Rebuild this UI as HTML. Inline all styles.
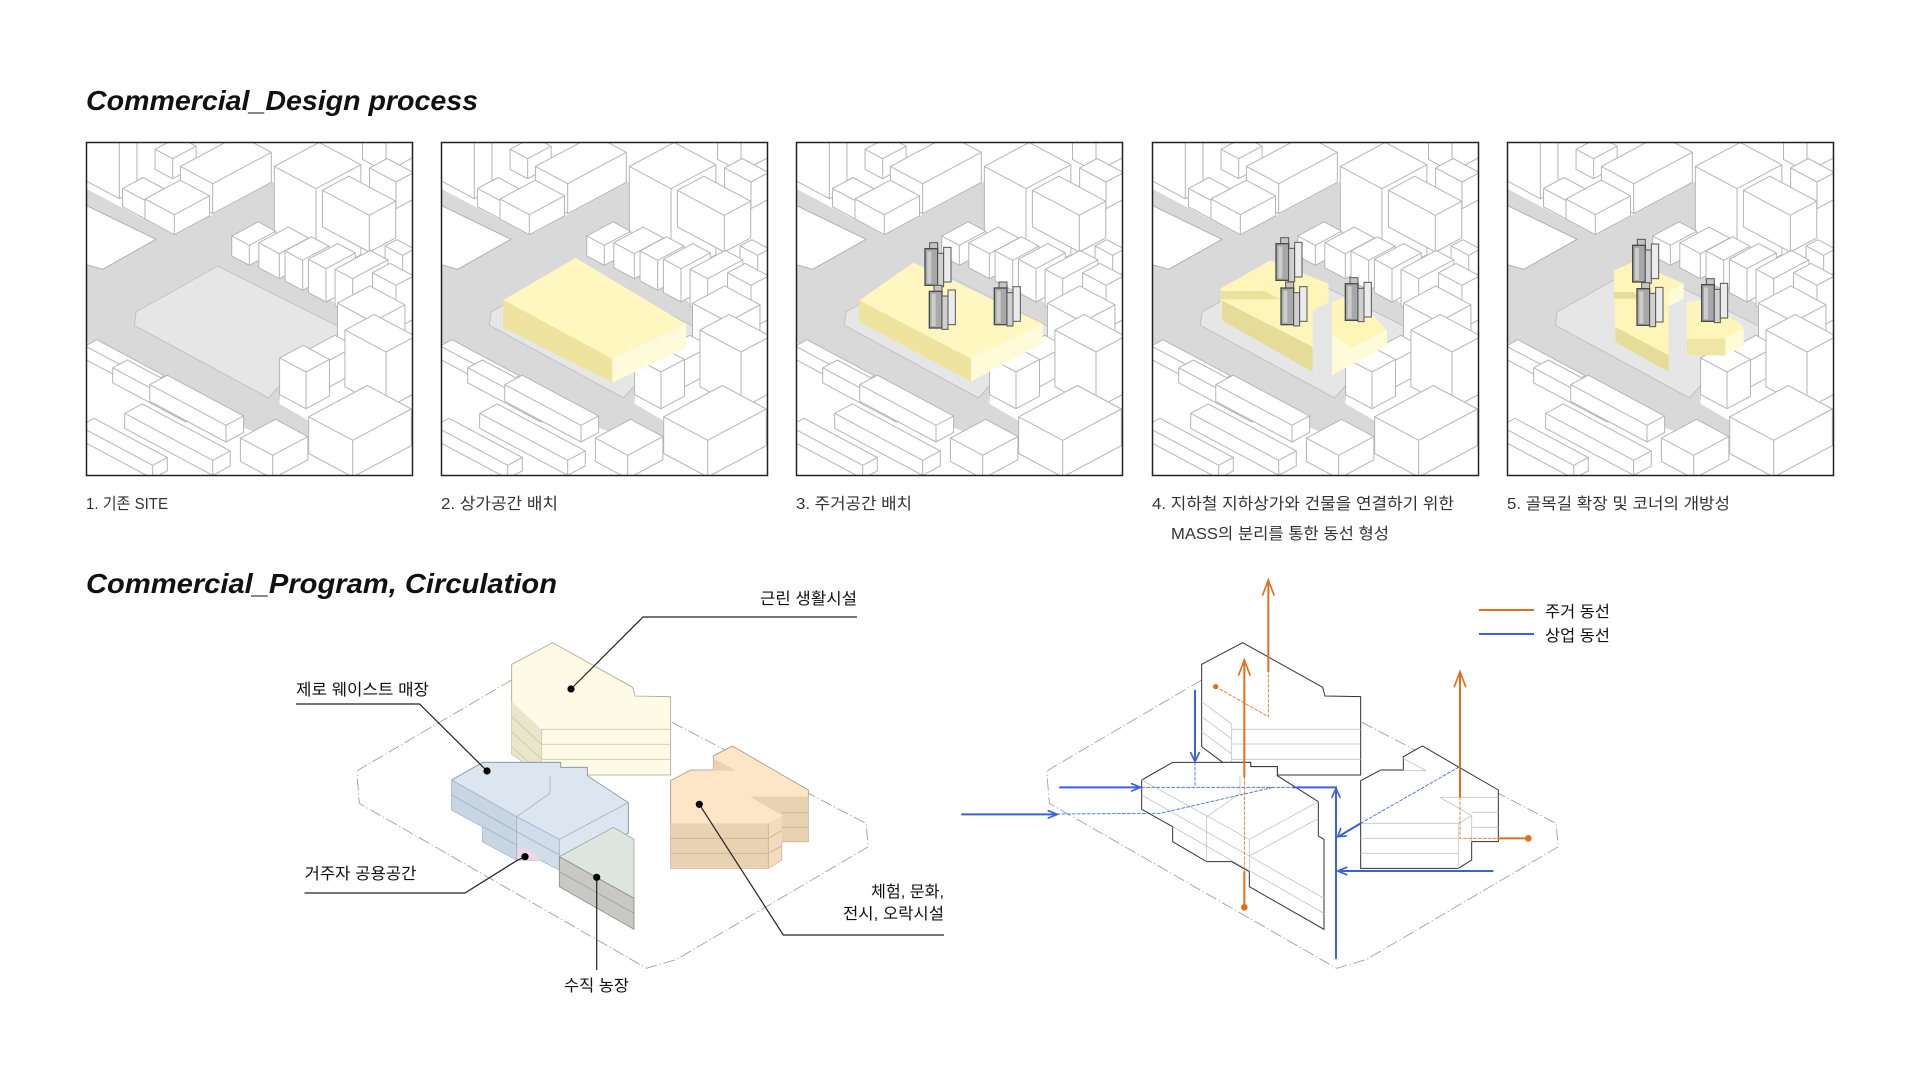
<!DOCTYPE html>
<html><head><meta charset="utf-8"><style>
html,body{margin:0;padding:0;background:#fff;}
svg{display:block;}
text{font-family:"Liberation Sans","Noto Sans CJK KR",sans-serif;}
</style></head><body>
<svg xmlns="http://www.w3.org/2000/svg" xmlns:xlink="http://www.w3.org/1999/xlink" width="1920" height="1080" viewBox="0 0 1920 1080">
<defs>
<g id="city">
<rect x="0" y="0" width="981" height="1005" fill="#fff"/>
<path d="M0,140 L265,280 L560,120 L570,120 L570,330 L810,540 L760,590 L585,740 L580,785 L765,893 L620,912 L480,860 L0,600 Z" fill="#d9d9d9"/>
<path d="M0,190 L210,292 L50,382 L0,368 Z" fill="#fff" stroke="#b0b0b0" stroke-width="3"/>
<path d="M150,510 L395,372 L775,562 L590,720 L548,768 L145,550 Z" fill="#e6e6e6" stroke="#c2c2c2" stroke-width="3" stroke-linejoin="round"/>
<g fill="#fff" stroke="#b5b5b5" stroke-width="3" stroke-linejoin="round">
<path d="M900,90 L979.2,47.7 L979.2,-42.3 L908.8,-79.9 L829.6,-37.6 L829.6,52.4 Z M900,0 V90 M900,0 L979.2,-42.3 M900,0 L829.6,-37.6"/>
<path d="M100,170 L152.8,141.8 L152.8,-28.2 L47.2,-84.6 L-5.6,-56.4 L-5.6,113.6 Z M100,0 V170 M100,0 L152.8,-28.2 M100,0 L-5.6,-56.4"/>
<path d="M260,110 L330.4,72.4 L330.4,12.4 L277.6,-15.8 L207.2,21.8 L207.2,81.8 Z M260,50 V110 M260,50 L330.4,12.4 M260,50 L207.2,21.8"/>
<path d="M380,215 L556,121 L556,31 L459.2,-20.7 L283.2,73.3 L283.2,163.3 Z M380,125 V215 M380,125 L556,31 M380,125 L283.2,73.3"/>
<path d="M180,232 L241.6,199.1 L241.6,144.1 L171.2,106.5 L109.6,139.4 L109.6,194.4 Z M180,177 V232 M180,177 L241.6,144.1 M180,177 L109.6,139.4"/>
<path d="M265,278 L370.6,221.6 L370.6,161.6 L282.6,114.6 L177,171 L177,231 Z M265,218 V278 M265,218 L370.6,161.6 M265,218 L177,171"/>
<path d="M690,410 L824.6,338.1 L824.6,68.1 L699.6,1.4 L565,73.3 L565,343.3 Z M690,140 V410 M690,140 L824.6,68.1 M690,140 L565,73.3"/>
<path d="M930,200 L982.8,171.8 L982.8,91.8 L903.6,49.5 L850.8,77.7 L850.8,157.7 Z M930,120 V200 M930,120 L982.8,91.8 M930,120 L850.8,77.7"/>
<path d="M850,330 L929.2,287.7 L929.2,177.7 L788.4,102.5 L709.2,144.8 L709.2,254.8 Z M850,220 V330 M850,220 L929.2,177.7 M850,220 L709.2,144.8"/>
<path d="M950,410 L985.2,391.2 L985.2,321.2 L932.4,293 L897.2,311.8 L897.2,381.8 Z M950,340 V410 M950,340 L985.2,321.2 M950,340 L897.2,311.8"/>
<path d="M490,370 L569.2,327.7 L569.2,267.7 L516.4,239.5 L437.2,281.8 L437.2,341.8 Z M490,310 V370 M490,310 L569.2,267.7 M490,310 L437.2,281.8"/>
<path d="M580,410 L668,363 L668,288 L606.4,255.1 L518.4,302.1 L518.4,377.1 Z M580,335 V410 M580,335 L668,288 M580,335 L518.4,302.1"/>
<path d="M650,445 L729.2,402.7 L729.2,312.7 L676.4,284.5 L597.2,326.8 L597.2,416.8 Z M650,355 V445 M650,355 L729.2,312.7 M650,355 L597.2,326.8"/>
<path d="M720,480 L808,433 L808,333 L755.2,304.8 L667.2,351.8 L667.2,451.8 Z M720,380 V480 M720,380 L808,333 M720,380 L667.2,351.8"/>
<path d="M800,520 L905.6,463.6 L905.6,353.6 L852.8,325.4 L747.2,381.8 L747.2,491.8 Z M800,410 V520 M800,410 L905.6,353.6 M800,410 L747.2,381.8"/>
<path d="M930,560 L982.8,531.8 L982.8,401.8 L912.4,364.2 L859.6,392.4 L859.6,522.4 Z M930,430 V560 M930,430 L982.8,401.8 M930,430 L859.6,392.4"/>
<path d="M860,650 L956.8,598.3 L956.8,488.3 L851.2,431.9 L754.4,483.6 L754.4,593.6 Z M860,540 V650 M860,540 L956.8,488.3 M860,540 L754.4,483.6"/>
<path d="M720,740 L808,693 L808,613 L746.4,580.1 L658.4,627.1 L658.4,707.1 Z M720,660 V740 M720,660 L808,613 M720,660 L658.4,627.1"/>
<path d="M660,800 L730.4,762.4 L730.4,652.4 L651.2,610.1 L580.8,647.7 L580.8,757.7 Z M660,690 V800 M660,690 L730.4,652.4 M660,690 L580.8,647.7"/>
<path d="M900,800 L988,753 L988,583 L864.8,517.2 L776.8,564.2 L776.8,734.2 Z M900,630 V800 M900,630 L988,583 M900,630 L776.8,564.2"/>
<path d="M200,760 L235.2,741.2 L235.2,701.2 L32.8,593.1 L-2.4,611.9 L-2.4,651.9 Z M200,720 V760 M200,720 L235.2,701.2 M200,720 L-2.4,611.9"/>
<path d="M300,840 L344,816.5 L344,771.5 L124,654 L80,677.5 L80,722.5 Z M300,795 V840 M300,795 L344,771.5 M300,795 L80,677.5"/>
<path d="M420,900 L472.8,871.8 L472.8,821.8 L244,699.6 L191.2,727.8 L191.2,777.8 Z M420,850 V900 M420,850 L472.8,821.8 M420,850 L191.2,727.8"/>
<path d="M380,1000 L432.8,971.8 L432.8,926.8 L168.8,785.8 L116,814 L116,859 Z M380,955 V1000 M380,955 L432.8,926.8 M380,955 L116,814"/>
<path d="M200,1010 L244,986.5 L244,946.5 L24,829 L-20,852.5 L-20,892.5 Z M200,970 V1010 M200,970 L244,946.5 M200,970 L-20,852.5"/>
<path d="M560,1010 L665.6,953.6 L665.6,883.6 L568.8,831.9 L463.2,888.3 L463.2,958.3 Z M560,940 V1010 M560,940 L665.6,883.6 M560,940 L463.2,888.3"/>
<path d="M800,1005 L976,911 L976,801 L844,730.5 L668,824.5 L668,934.5 Z M800,895 V1005 M800,895 L976,801 M800,895 L668,824.5"/>
</g>
</g>
<g id="tw">
<rect x="16" y="2" width="24" height="22" fill="#c4c4c4" stroke="#555" stroke-width="3"/>
<rect x="2" y="20" width="38" height="110" fill="#a8a8a8" stroke="#4a4a4a" stroke-width="4"/>
<rect x="9" y="28" width="12" height="96" fill="#cdcdcd"/>
<rect x="40" y="34" width="18" height="100" fill="#d0d0d0" stroke="#555" stroke-width="3"/>
<rect x="58" y="16" width="22" height="104" fill="#ececec" stroke="#555" stroke-width="3"/>
</g>
</defs>

<rect width="1920" height="1080" fill="#fff"/>

<!-- Titles -->
<text x="86" y="110" font-weight="700" font-style="italic" font-size="28" fill="#111" textLength="392" lengthAdjust="spacingAndGlyphs">Commercial_Design process</text>
<text x="86" y="593" font-weight="700" font-style="italic" font-size="28" fill="#111" textLength="471" lengthAdjust="spacingAndGlyphs">Commercial_Program, Circulation</text>

<!-- Panel 1 -->
<svg x="86" y="142" width="327" height="334" viewBox="0 0 981 1002">
<use xlink:href="#city" href="#city"/>
</svg>
<!-- Panel 2 -->
<svg x="441" y="142" width="327" height="334" viewBox="0 0 981 1002">
<use xlink:href="#city" href="#city"/>
<path d="M187,474 L404,348 L735,546 L514,650 Z" fill="#fef8c0"/>
<path d="M187,474 L514,650 L514,722 L187,557 Z" fill="#eee4a0"/>
<path d="M514,650 L735,546 L735,618 L514,722 Z" fill="#fffbd8"/>
</svg>
<!-- Panel 3 -->
<svg x="796" y="142" width="327" height="334" viewBox="0 0 981 1002">
<use xlink:href="#city" href="#city"/>
<path d="M190,475 L352,362 L740,545 L525,650 Z" fill="#fef8c0"/>
<path d="M190,475 L525,650 L525,718 L190,540 Z" fill="#eee4a0"/>
<path d="M525,650 L740,545 L740,605 L525,718 Z" fill="#fffbd8"/>
<use xlink:href="#tw" href="#tw" x="385" y="300"/>
<use xlink:href="#tw" href="#tw" x="398" y="428"/>
<use xlink:href="#tw" href="#tw" x="593" y="418"/>
</svg>
<!-- Panel 4 -->
<svg x="1152" y="142" width="327" height="334" viewBox="0 0 981 1002">
<use xlink:href="#city" href="#city"/>
<path d="M205,440 L355,355 L530,425 L530,482 L482,505 L482,690 L210,535 Z" fill="#fdf6b8"/>
<path d="M210,475 L482,615 L482,690 L210,535 Z" fill="#e6dc9a"/>
<path d="M205,447 L340,447 L385,472 L205,472 Z" fill="#ece29f"/>
<path d="M540,480 L605,455 L705,565 L705,610 L540,700 Z" fill="#fdf6b8"/>
<path d="M540,575 L600,615 L705,565 L705,610 L540,700 Z" fill="#fefbd8"/>
<use xlink:href="#tw" href="#tw" x="370" y="285"/>
<use xlink:href="#tw" href="#tw" x="385" y="418"/>
<use xlink:href="#tw" href="#tw" x="578" y="405"/>
</svg>
<!-- Panel 5 -->
<svg x="1507" y="142" width="327" height="334" viewBox="0 0 981 1002">
<use xlink:href="#city" href="#city"/>
<path d="M320,385 L380,360 L530,425 L530,470 L485,492 L485,690 L325,600 Z" fill="#fdf6b8"/>
<path d="M325,555 L485,640 L485,690 L325,600 Z" fill="#e6dc9a"/>
<path d="M320,450 L380,450 L400,470 L320,470 Z" fill="#e6dc9a"/>
<path d="M485,492 L530,470 L530,425 L485,450 Z" fill="#fefbd8"/>
<path d="M540,480 L580,475 L700,545 L710,560 L710,610 L655,640 L540,640 Z" fill="#fdf6b8"/>
<path d="M540,590 L655,590 L655,640 L540,640 Z" fill="#efe6a6"/>
<path d="M655,590 L710,560 L710,610 L655,640 Z" fill="#fefbd8"/>
<use xlink:href="#tw" href="#tw" x="375" y="290"/>
<use xlink:href="#tw" href="#tw" x="388" y="420"/>
<use xlink:href="#tw" href="#tw" x="582" y="408"/>
</svg>

<g fill="none" stroke="#222" stroke-width="1.5">
<rect x="86.5" y="142.5" width="326" height="333"/>
<rect x="441.5" y="142.5" width="326" height="333"/>
<rect x="796.5" y="142.5" width="326" height="333"/>
<rect x="1152.5" y="142.5" width="326" height="333"/>
<rect x="1507.5" y="142.5" width="326" height="333"/>
</g>

<!-- Captions -->
<g font-size="16" fill="#333" lengthAdjust="spacingAndGlyphs">
<text x="86" y="509" textLength="82" lengthAdjust="spacingAndGlyphs">1. 기존 SITE</text>
<text x="441" y="509" textLength="117" lengthAdjust="spacingAndGlyphs">2. 상가공간 배치</text>
<text x="796" y="509" textLength="116" lengthAdjust="spacingAndGlyphs">3. 주거공간 배치</text>
<text x="1152" y="509" textLength="302" lengthAdjust="spacingAndGlyphs">4. 지하철 지하상가와 건물을 연결하기 위한</text>
<text x="1171" y="539" textLength="218" lengthAdjust="spacingAndGlyphs">MASS의 분리를 통한 동선 형성</text>
<text x="1507" y="509" textLength="223" lengthAdjust="spacingAndGlyphs">5. 골목길 확장 및 코너의 개방성</text>
</g>

<!-- Left program diagram -->
<g transform="translate(350,630) scale(0.333333)">
<path d="M485,150 L25,420 Q20,430 22,445 L28,520 L890,1015 L980,988 L1555,650 L1548,580 L962,275 Z" fill="none" stroke="#9a9a9a" stroke-width="2.5" stroke-dasharray="36 8 4 8"/>
<!-- yellow -->
<path d="M485,103 L608,38 L848,172 L855,198 L962,200 L962,435 L575,435 L485,372 Z" fill="#fdfbe6" stroke="#a9a68f" stroke-width="2.5"/>
<path d="M485,215 L575,298 L575,435 L485,372 Z" fill="#e9e6cb"/>
<path d="M575,298 L962,298 M575,343 L962,343 M575,388 L962,388 M485,260 L575,343 M485,305 L575,388 M485,350 L575,433 M575,298 L575,435" stroke="#cdc9ad" stroke-width="2.5" fill="none"/>
<!-- blue -->
<path d="M305,450 L398,397 L632,397 L632,412 L712,412 L712,437 L835,518 L835,610 L628,680 L628,720 L570,690 L500,690 L398,635 L398,590 L305,540 Z" fill="#dbe6f0" stroke="#7f8c9c" stroke-width="2.5"/>
<path d="M305,450 L500,560 L500,690 L398,635 L398,590 L305,540 Z" fill="#c8d5e2"/>
<path d="M500,560 L628,628 L628,720 L570,690 L500,690 Z" fill="#d1ddea"/>
<path d="M500,655 L545,662 L572,690 L500,690 Z" fill="#f3d3ec"/>
<path d="M305,495 L500,605 M500,560 L500,690 M398,590 L500,645 M500,605 L628,675 M600,437 L600,490 L500,560 M628,628 L835,518 M628,628 L628,680 M305,450 L500,560 L628,628" stroke="#a3b1c1" stroke-width="2.5" fill="none"/>
<!-- farm -->
<path d="M628,680 L790,592 L852,628 L852,805 Z" fill="#dde6de" stroke="#8f948f" stroke-width="2"/>
<path d="M628,680 L852,805 L852,898 L628,770 Z" fill="#c8c8c4" stroke="#8a8a86" stroke-width="2.5"/>
<path d="M628,725 L852,850" stroke="#a0a09c" stroke-width="2.5"/>
<!-- orange -->
<path d="M962,452 L1022,420 L1090,420 L1090,378 L1147,348 L1375,480 L1375,635 L1295,635 L1295,690 L1255,715 L962,715 Z" fill="#fde6c8" stroke="#a8967e" stroke-width="2.5"/>
<path d="M962,580 L1255,580 L1255,715 L962,715 Z" fill="#e8d2b2"/>
<path d="M1255,580 L1295,558 L1295,690 L1255,715 Z" fill="#f2dcbd"/>
<path d="M1200,500 L1375,500 L1375,635 L1295,635 L1295,555 Z" fill="#e8d2b2"/>
<path d="M1090,385 L1158,422 L1090,422 Z" fill="#e8d2b2"/>
<path d="M962,625 L1255,625 M962,670 L1255,670 M1295,548 L1375,548 M1295,592 L1375,592 M1255,625 L1295,602 M1255,670 L1295,648 M1255,580 L1255,715" stroke="#c9b293" stroke-width="2.5" fill="none"/>
</g>

<!-- Left leaders -->
<g fill="none" stroke="#222" stroke-width="1.2">
<path d="M857,617 L643,617 L571,689"/>
<path d="M296,704 L419.5,704 L487,771"/>
<path d="M304.5,893 L465,893 L516.7,860.7 L525,856.7"/>
<path d="M596.7,877 L596.7,970"/>
<path d="M944,935 L783.3,935 L699.3,804.3"/>
</g>
<g fill="#000">
<circle cx="571" cy="689" r="3.6"/>
<circle cx="487" cy="771" r="3.6"/>
<circle cx="525" cy="856.7" r="3.6"/>
<circle cx="596.7" cy="877.3" r="3.6"/>
<circle cx="699.3" cy="804.3" r="3.6"/>
</g>
<g font-size="16" fill="#111">
<text x="760" y="604" textLength="97" lengthAdjust="spacingAndGlyphs">근린 생활시설</text>
<text x="296" y="695" textLength="133" lengthAdjust="spacingAndGlyphs">제로 웨이스트 매장</text>
<text x="304.5" y="879" textLength="112" lengthAdjust="spacingAndGlyphs">거주자 공용공간</text>
<text x="564" y="991" textLength="65" lengthAdjust="spacingAndGlyphs">수직 농장</text>
<text x="871" y="897" textLength="73" lengthAdjust="spacingAndGlyphs">체험, 문화,</text>
<text x="843" y="919" textLength="101" lengthAdjust="spacingAndGlyphs">전시, 오락시설</text>
</g>

<!-- Right circulation diagram -->
<g transform="translate(1040,570) scale(0.333333)">
<path d="M485,330 L25,600 Q20,610 22,625 L28,700 L890,1195 L980,1168 L1555,830 L1548,760 L962,455 Z" fill="none" stroke="#9a9a9a" stroke-width="2.5" stroke-dasharray="36 8 4 8"/>
<!-- building A -->
<path d="M485,283 L608,218 L848,352 L855,378 L962,380 L962,615 L712,615 L712,590 L632,590 L632,577 L548,577 L485,530 Z" fill="#fff" stroke="#333" stroke-width="3"/>
<path d="M485,395 L575,462 L575,577 M485,440 L575,507 M485,485 L575,552 M575,478 L962,478 M575,522 L962,522 M575,568 L962,568" stroke="#c4c4c4" stroke-width="2.5" fill="none"/>
<!-- building B -->
<path d="M305,630 L398,577 L632,577 L632,590 L712,590 L712,617 L835,695 L835,798 L852,808 L852,1078 L628,950 L628,905 L575,875 L500,875 L398,815 L398,770 L305,718 Z" fill="#fff" stroke="#333" stroke-width="3"/>
<path d="M305,630 L628,808 L835,695 M305,675 L852,985 M398,770 L852,1030 M500,740 L500,875 M628,808 L628,905 M600,618 L600,670 L500,740 M628,858 L835,745" stroke="#c4c4c4" stroke-width="2.5" fill="none"/>
<!-- building C -->
<path d="M962,632 L1022,600 L1090,600 L1090,560 L1147,528 L1375,660 L1375,815 L1295,815 L1295,870 L1255,895 L962,895 Z" fill="#fff" stroke="#333" stroke-width="3"/>
<path d="M1090,565 L1158,602 L1090,602 M1200,682 L1375,682 M1200,682 L1295,737 L1295,815 M962,760 L1255,760 L1295,737 M962,805 L1255,805 M962,850 L1255,850 M1255,760 L1255,895 M1295,727 L1375,727 M1295,772 L1375,772" stroke="#c4c4c4" stroke-width="2.5" fill="none"/>
<!-- orange arrows -->
<g stroke="#e0701c" fill="none" stroke-linecap="round">
<path d="M527,350 L685,440 L685,305 M613,620 L613,905 M1260,680 L1260,805 L1375,805" stroke-width="2.5" stroke-dasharray="9 6"/>
<path d="M685,305 L685,35 M613,620 L613,272 M613,905 L613,1012 M1260,680 L1260,310 M1375,805 L1465,805" stroke-width="6"/>
<path d="M668,75 L685,30 L702,75 M596,315 L613,270 L630,315 M1243,350 L1260,305 L1277,350" stroke-width="5"/>
</g>
<g fill="#e0701c">
<circle cx="527" cy="350" r="8"/>
<circle cx="613" cy="1012" r="10"/>
<circle cx="1465" cy="805" r="10"/>
</g>
<!-- blue arrows -->
<g stroke="#3a63d8" fill="none" stroke-linecap="round">
<path d="M465,577 L465,652 M305,652 L760,652 M52,732 L360,730 L700,652 M962,760 L1255,592" stroke-width="2.5" stroke-dasharray="9 6"/>
<path d="M465,362 L465,572 M60,652 L300,652 M760,652 L888,652 L888,1165 M-234,733 L50,733 M1358,903 L895,903 M962,760 L895,800" stroke-width="6"/>
<path d="M452,548 L465,575 L478,548 M275,641 L302,652 L275,663 M876,682 L888,655 L900,682 M25,722 L52,733 L25,744 M920,892 L893,903 L920,914 M902,776 L893,800 L918,798" stroke-width="5"/>
</g>
</g>

<!-- Legend -->
<line x1="1479" y1="610" x2="1534" y2="610" stroke="#e0701c" stroke-width="2"/>
<line x1="1479" y1="634" x2="1534" y2="634" stroke="#3a63d8" stroke-width="2"/>
<g font-size="16" fill="#111">
<text x="1545" y="617" textLength="65" lengthAdjust="spacingAndGlyphs">주거 동선</text>
<text x="1545" y="641" textLength="65" lengthAdjust="spacingAndGlyphs">상업 동선</text>
</g>
</svg>
</body></html>
